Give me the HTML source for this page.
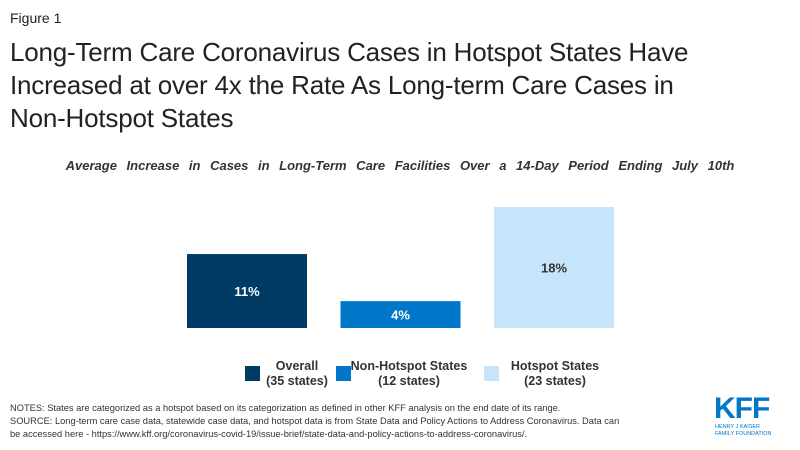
<!DOCTYPE html>
<html><head><meta charset="utf-8"><style>
body{margin:0;width:800px;height:450px;background:#fff;font-family:"Liberation Sans",Arial,sans-serif;position:relative;overflow:hidden}
.a{position:absolute;white-space:nowrap}
</style></head><body>
<div class="a" style="left:10px;top:10px;font-size:14px;color:#222">Figure 1</div>
<div class="a" style="left:10px;top:36px;font-size:26px;line-height:33px;color:#222;letter-spacing:-0.2px">Long-Term Care Coronavirus Cases in Hotspot States Have<br>Increased at over 4x the Rate As Long-term Care Cases in<br>Non-Hotspot States</div>
<div class="a" style="left:0;width:800px;text-align:center;top:158px;font-size:13px;font-weight:bold;font-style:italic;color:#333;word-spacing:6px">Average Increase in Cases in Long-Term Care Facilities Over a 14-Day Period Ending July 10th</div>
<svg id="chart" class="a" style="left:0;top:0" width="800" height="450"></svg>
<div class="a" style="left:10px;top:402px;font-size:9.3px;line-height:13px;color:#333">NOTES: States are categorized as a hotspot based on its categorization as defined in other KFF analysis on the end date of its range.<br>SOURCE: Long-term care case data, statewide case data, and hotspot data is from State Data and Policy Actions to Address Coronavirus. Data can<br>be accessed here - https://www.kff.org/coronavirus-covid-19/issue-brief/state-data-and-policy-actions-to-address-coronavirus/.</div>
<div class="a" style="left:714px;top:394px;font-size:30px;font-weight:bold;color:#0077c8;letter-spacing:-1px;line-height:30px">KFF</div>
<div class="a" style="left:715px;top:424px;font-size:5.5px;color:#0077c8;line-height:6.5px">HENRY J KAISER<br>FAMILY FOUNDATION</div>
<script>
const categories=["Overall","Non-Hotspot States","Hotspot States"];
const sublabels=["(35 states)","(12 states)","(23 states)"];
const values=[11,4,18];
const valueLabels=["11%","4%","18%"];
const colors=["#003b66","#0077c8","#c6e5fb"];
const textColors=["#fff","#fff","#333"];
const svg=document.getElementById('chart');
const NS="http://www.w3.org/2000/svg";
const base=328,scale=121/18,x0=187,step=153.5,bw=120;
const y=v=>base-v*scale;
const xb=i=>x0+i*step;
values.forEach((v,i)=>{
 const r=document.createElementNS(NS,'rect');
 r.setAttribute('x',xb(i));r.setAttribute('y',y(v));r.setAttribute('width',bw);r.setAttribute('height',base-y(v));r.setAttribute('fill',colors[i]);
 
 
 svg.appendChild(r);
 const t=document.createElementNS(NS,'text');
 t.setAttribute('x',xb(i)+bw/2);t.setAttribute('y',(y(v)+base)/2+5);t.setAttribute('text-anchor','middle');
 t.setAttribute('font-size','13');t.setAttribute('font-weight','bold');t.setAttribute('fill',textColors[i]);
 t.textContent=valueLabels[i];
 
 
 svg.appendChild(t);
});
const lx=[245,336,484],tx=[297,409,555];
categories.forEach((c,i)=>{
 const g=document.createElementNS(NS,'g');
 
 
 const r=document.createElementNS(NS,'rect');
 r.setAttribute('x',lx[i]);r.setAttribute('y',366);r.setAttribute('width',15);r.setAttribute('height',15);r.setAttribute('fill',colors[i]);
 g.appendChild(r);
 [c,sublabels[i]].forEach((s,k)=>{
  const t=document.createElementNS(NS,'text');
  t.setAttribute('x',tx[i]);t.setAttribute('y',370+k*15);t.setAttribute('text-anchor','middle');
  t.setAttribute('font-size','12.5');t.setAttribute('font-weight','bold');t.setAttribute('fill','#333');
  t.textContent=s;g.appendChild(t);
 });
 svg.appendChild(g);
});
</script>
</body></html>
